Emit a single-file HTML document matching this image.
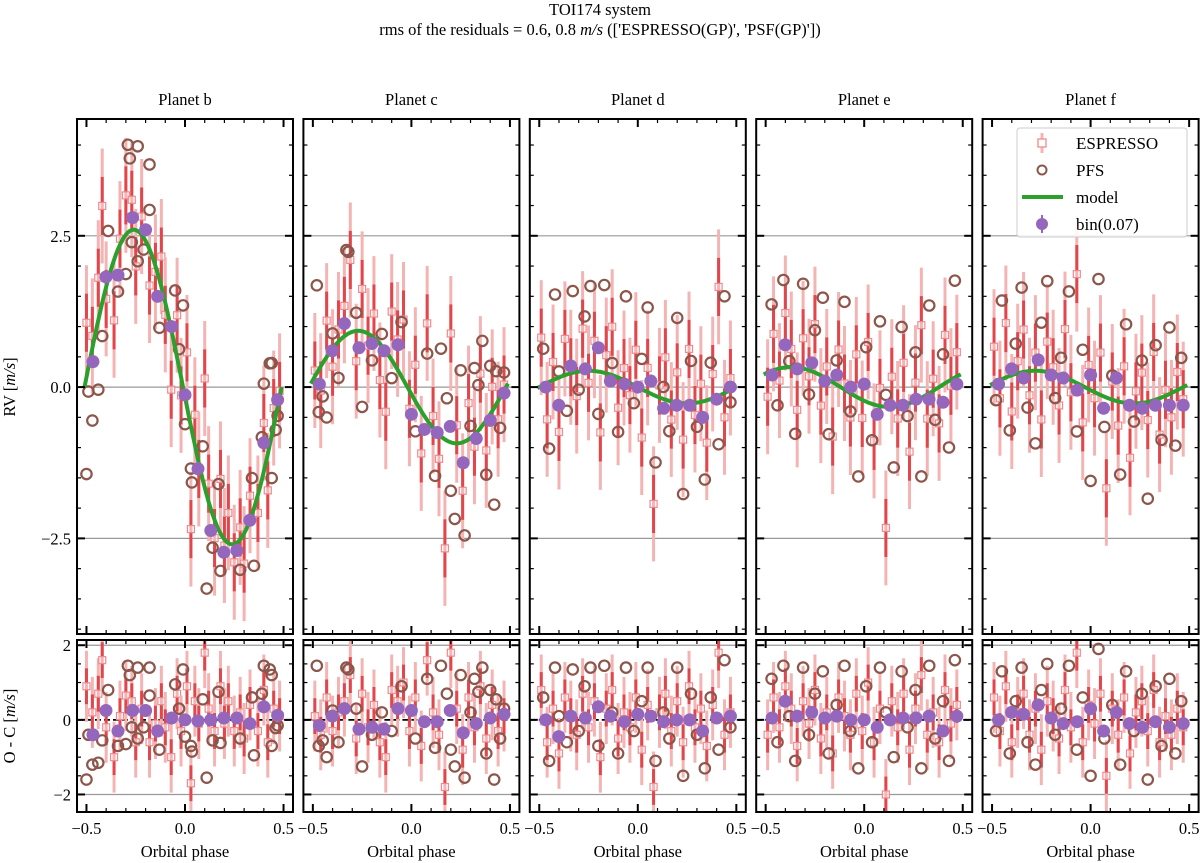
<!DOCTYPE html>
<html><head><meta charset="utf-8">
<style>
html,body{margin:0;padding:0;background:#fff;}
svg{display:block;font-family:"Liberation Serif",serif;}
</style></head>
<body>
<svg id="chart" width="1200" height="863" viewBox="0 0 1200 863" xmlns="http://www.w3.org/2000/svg">
<text x="600" y="15" text-anchor="middle" font-size="16.5">TOI174 system</text>
<text x="600" y="35" text-anchor="middle" font-size="16.5">rms of the residuals = 0.6, 0.8 <tspan font-style="italic">m/s</tspan> (['ESPRESSO(GP)', 'PSF(GP)'])</text>
<text transform="translate(15,387) rotate(-90)" text-anchor="middle" font-size="16.5">RV [<tspan font-style="italic">m/s</tspan>]</text>
<text transform="translate(15,726) rotate(-90)" text-anchor="middle" font-size="16.5">O - C [<tspan font-style="italic">m/s</tspan>]</text>
<g id="plots"></g>
</svg>
<script>
const planets = ["b","c","d","e","f"];
// model semi-amplitudes (m/s) and phase offsets
const modelK = [2.6, 0.93, 0.27, 0.33, 0.27];
const modelShift = [0.01, 0.02, 0.0, 0.12, 0.03];
// binned points
const binPhase = [-0.467,-0.401,-0.34,-0.266,-0.2,-0.139,-0.068,0,0.066,0.131,0.197,0.263,0.329,0.4,0.47];
const binRV_b = [0.42,1.82,1.85,2.8,2.6,1.5,1.0,-0.13,-1.35,-2.37,-2.73,-2.7,-2.2,-0.92,-0.21];
const binRV_c = [0.05,0.6,1.05,0.65,0.72,0.6,0.7,-0.45,-0.7,-0.75,-0.65,-1.25,-0.85,-0.55,-0.1];
const binRV_d = [0.0,-0.3,0.35,0.3,0.65,0.1,0.05,0.0,0.1,-0.35,-0.3,-0.3,-0.5,-0.2,0.0];
const binRV_e = [0.2,0.7,0.3,0.4,0.1,0.2,0.0,0.05,-0.45,-0.3,-0.3,-0.2,-0.2,-0.25,0.05];
const binRV_f = [0.05,0.3,0.15,0.45,0.2,0.15,-0.05,0.2,-0.35,0.15,-0.3,-0.35,-0.3,-0.3,-0.3];
const binRes_b = [-0.4,0.25,-0.3,0.25,0.25,-0.3,0.05,0,-0.03,0,0.05,0.05,-0.1,0.35,0.12];
const binRes_c = [-0.15,0.1,0.3,-0.25,-0.2,-0.25,0.3,0.25,-0.05,-0.05,0.25,-0.35,-0.1,0.05,0.15];
const binRes_d = [0.0,-0.45,0.1,0.05,0.35,0.1,-0.05,0.15,0.1,-0.05,0.0,0.0,-0.3,0.05,0.1];
const binRes_e = [0.05,0.5,0.1,0.2,0.05,0.1,0.0,0.0,-0.2,0.0,0.05,0.05,0.1,-0.3,0.1];
const binRes_f = [0.0,0.2,0.15,0.4,0.05,-0.1,-0.05,0.3,-0.3,0.2,-0.1,-0.2,-0.05,-0.2,-0.1];
// PFS residuals (phase, residual)
const pfsPhase_b = [-0.49,-0.5,-0.47,-0.44,-0.39,-0.42,-0.34,-0.3,-0.29,-0.28,-0.24,-0.24,-0.27,-0.18,-0.18,-0.21,-0.13,-0.05,-0.03,-0.01,0,0.03,0.035,0.09,0.11,0.14,0.17,0.18,0.28,0.34,0.35,0.39,0.4,0.43,0.44,0.44,0.46,0.47];
const pfsRes_b = [-0.4,-1.6,-1.2,-1.15,0.8,-0.55,-0.7,-0.65,1.45,1.2,1.4,-0.5,-0.2,0.65,1.4,-0.2,-0.8,0.95,0.3,1.35,-0.45,-0.7,-0.85,0.55,-1.55,-0.55,0.75,-0.62,-0.5,0.6,-0.95,0.7,1.45,1.35,1.2,-0.7,-0.22,-0.15];
const pfsPhase_c = [-0.48,-0.47,-0.45,-0.43,-0.4,-0.37,-0.33,-0.32,-0.28,-0.25,-0.2,-0.15,-0.1,-0.05,0.02,0.08,0.12,0.15,0.18,0.2,0.22,0.25,0.27,0.3,0.32,0.34,0.36,0.38,0.4,0.42,0.43,0.45,0.47];
const pfsRes_c = [1.45,-0.7,-0.55,-1.0,0.25,-0.6,1.4,1.35,0.3,-1.25,-0.4,0.2,-0.3,0.9,-0.5,1.1,-0.75,1.45,0.7,-0.8,-1.25,1.2,-1.55,0.2,1.1,0.75,1.4,-0.9,0.8,-1.6,0.55,-0.5,0.3];
const pfsPhase_d = [-0.48,-0.45,-0.42,-0.4,-0.36,-0.33,-0.3,-0.27,-0.24,-0.2,-0.17,-0.13,-0.1,-0.06,-0.02,0.02,0.05,0.09,0.13,0.16,0.2,0.23,0.27,0.3,0.34,0.37,0.41,0.44,0.47];
const pfsRes_d = [0.6,-1.1,1.4,0.1,-0.6,1.35,-0.3,0.9,1.4,-0.7,1.45,0.2,-0.9,1.4,-0.3,0.5,1.4,-1.1,0.2,-0.5,1.4,-1.5,0.7,-0.4,-1.3,0.6,-0.8,1.6,-0.2];
const pfsPhase_e = [-0.47,-0.44,-0.41,-0.38,-0.35,-0.31,-0.28,-0.25,-0.21,-0.18,-0.14,-0.1,-0.07,-0.03,0.01,0.04,0.08,0.11,0.15,0.19,0.22,0.26,0.29,0.33,0.36,0.4,0.43,0.46];
const pfsRes_e = [1.1,-0.6,1.45,0.1,-1.1,1.4,-0.4,0.7,1.3,-0.9,0.4,1.45,-0.3,-1.3,0.9,-0.6,1.4,0.2,-1.0,1.3,-0.2,0.8,-1.3,1.45,-0.5,0.5,-1.1,1.6];
const pfsPhase_f = [-0.48,-0.45,-0.41,-0.38,-0.35,-0.32,-0.28,-0.25,-0.22,-0.18,-0.15,-0.11,-0.07,-0.04,0.0,0.04,0.07,0.11,0.15,0.18,0.22,0.26,0.29,0.33,0.36,0.4,0.43,0.46];
const pfsRes_f = [-0.3,1.3,-0.9,0.5,1.4,-0.6,-1.2,0.8,1.5,-0.4,0.3,1.45,-0.8,0.6,-1.5,1.9,-0.5,0.4,-1.2,1.3,-0.3,0.7,-1.6,0.9,-0.7,1.1,-0.9,0.5];
// ESPRESSO residuals
const espPhase_b = [-0.5,-0.47,-0.44,-0.42,-0.4,-0.36,-0.33,-0.3,-0.27,-0.25,-0.22,-0.18,-0.15,-0.12,-0.1,-0.07,-0.04,-0.02,0.01,0.03,0.05,0.07,0.1,0.12,0.15,0.18,0.2,0.22,0.25,0.28,0.3,0.33,0.37,0.4,0.42,0.45,0.48];
const espRes_b = [0.9,0.2,0.7,1.6,-0.2,-1.0,0.1,0.65,0.5,-0.6,0.3,-0.6,-0.1,0.5,-0.2,-1.0,0.7,-0.3,0.9,-1.7,0.5,-0.1,1.8,0.3,-0.3,0.9,-0.1,0.5,-0.3,0.2,-0.5,0.4,-0.3,0.8,-0.6,0.3,0.1];
const espPhase_c = [-0.49,-0.46,-0.43,-0.4,-0.37,-0.34,-0.31,-0.28,-0.25,-0.22,-0.19,-0.16,-0.13,-0.1,-0.07,-0.04,-0.01,0.02,0.05,0.08,0.11,0.14,0.17,0.2,0.23,0.26,0.29,0.32,0.35,0.38,0.41,0.44,0.47];
const espRes_c = [0.1,-0.4,0.6,-0.3,0.2,0.5,1.2,-0.5,0.7,-0.2,0.4,-0.6,-1.0,0.8,0.5,1.0,-0.3,0.6,-0.7,1.6,0.2,-0.4,-1.8,1.8,0.3,-0.8,0.6,-0.2,0.9,-0.5,0.4,-0.3,0.1];
const espPhase_d = [-0.49,-0.46,-0.43,-0.4,-0.37,-0.34,-0.31,-0.28,-0.25,-0.22,-0.19,-0.16,-0.13,-0.1,-0.07,-0.04,-0.01,0.02,0.05,0.08,0.11,0.14,0.17,0.2,0.23,0.26,0.29,0.32,0.35,0.38,0.41,0.44,0.47];
const espRes_d = [0.8,-0.6,0.3,-0.9,0.6,0.1,-0.4,0.7,-0.2,0.5,-1.0,0.3,0.8,-0.5,0.2,-0.2,0.6,-0.8,0.4,-1.8,0.2,0.7,-0.3,0.5,-0.6,0.9,-0.2,0.3,-0.7,0.4,1.8,-0.4,0.2];
const espPhase_e = [-0.49,-0.46,-0.43,-0.4,-0.37,-0.34,-0.31,-0.28,-0.25,-0.22,-0.19,-0.16,-0.13,-0.1,-0.07,-0.04,-0.01,0.02,0.05,0.08,0.11,0.14,0.17,0.2,0.23,0.26,0.29,0.32,0.35,0.38,0.41,0.44,0.47];
const espRes_e = [-0.4,0.6,-0.2,0.9,0.3,-0.7,0.5,-0.1,0.8,-0.5,0.2,-0.9,0.6,0.1,-0.4,0.7,-0.3,1.0,-0.6,0.3,-2.0,0.5,-0.2,0.7,-0.8,0.3,1.2,-0.4,0.2,-0.6,0.8,-0.1,0.4];
const espPhase_f = [-0.49,-0.46,-0.43,-0.4,-0.37,-0.34,-0.31,-0.28,-0.25,-0.22,-0.19,-0.16,-0.13,-0.1,-0.07,-0.04,-0.01,0.02,0.05,0.08,0.11,0.14,0.17,0.2,0.23,0.26,0.29,0.32,0.35,0.38,0.41,0.44,0.47];
const espRes_f = [0.6,-0.3,0.9,-0.6,0.2,0.7,-0.4,0.3,-0.8,0.5,0.1,-0.5,0.8,-0.2,1.8,-0.6,0.4,-0.1,0.7,-1.5,0.3,-0.4,0.6,-0.9,0.2,0.5,-0.3,0.8,-0.6,0.1,-0.4,0.3,-0.2];
const xTickLabels = ["\u22120.5","0.0","0.5"];
const xTickVals = [-0.5,0,0.5];
const topTickVals = [-2.5,0,2.5];
const topTickLabels = ["\u22122.5","0.0","2.5"];
const botTickVals = [-2,0,2];
const botTickLabels = ["\u22122","0","2"];

const binRV = {b:binRV_b,c:binRV_c,d:binRV_d,e:binRV_e,f:binRV_f};
const binRes = {b:binRes_b,c:binRes_c,d:binRes_d,e:binRes_e,f:binRes_f};
const pfsP = {b:pfsPhase_b,c:pfsPhase_c,d:pfsPhase_d,e:pfsPhase_e,f:pfsPhase_f};
const pfsR = {b:pfsRes_b,c:pfsRes_c,d:pfsRes_d,e:pfsRes_e,f:pfsRes_f};
const espP = {b:espPhase_b,c:espPhase_c,d:espPhase_d,e:espPhase_e,f:espPhase_f};
const espR = {b:espRes_b,c:espRes_c,d:espRes_d,e:espRes_e,f:espRes_f};

const NS="http://www.w3.org/2000/svg";
const root=document.getElementById('plots');
function mk(tag,attrs,parent){const e=document.createElementNS(NS,tag);for(const k in attrs)e.setAttribute(k,attrs[k]);(parent||root).appendChild(e);return e;}

const W=216, X0=77, PITCH=226.4, XMIN=-0.548, XMAX=0.548;
const TOP={y0:119,y1:634,vmin:-4.08,vmax:4.43};
const BOT={y0:640,y1:812,vmin:-2.47,vmax:2.14};
function xs(i,p){return X0+i*PITCH+(p-XMIN)/(XMAX-XMIN)*W;}
function ys(P,v){return P.y1-(v-P.vmin)/(P.vmax-P.vmin)*(P.y1-P.y0);}
function model(i,p){return -modelK[i]*Math.sin(2*Math.PI*(p+modelShift[i]));}

planets.forEach((pl,i)=>{
  const g=mk('g',{});
  
  
  const left=X0+i*PITCH;
  const t=mk('text',{x:left+W/2,y:105,'text-anchor':'middle','font-size':16.5},g);
  t.textContent='Planet '+pl;
  
  
  [[TOP,'rv'],[BOT,'residual']].forEach(([P,kind])=>{
    const pg=mk('g',{},g);
    
    
    const clipId='clip'+pl+kind;
    const cp=mk('clipPath',{id:clipId},pg);
    mk('rect',{x:left,y:P.y0,width:W,height:P.y1-P.y0},cp);
    const hv = kind==='rv'?topTickVals:botTickVals;
    hv.forEach(v=>{
      const z=(kind==='residual'&&v===0);
      const l=mk('line',{x1:left,x2:left+W,y1:ys(P,v),y2:ys(P,v),stroke:z?'#000':'#999','stroke-width':z?1.8:1.2,'stroke-dasharray':z?'6,3':'none'},pg);
      
      
    });
    const data=mk('g',{'clip-path':'url(#'+clipId+')'},pg);
    const ph=espP[pl], rs=espR[pl];
    ph.forEach((p,k)=>{
      const v = kind==='rv'? model(i,p)+rs[k] : rs[k];
      const x=xs(i,p), y=ys(P,v);
      const sc=(P.y1-P.y0)/(P.vmax-P.vmin);
      mk('line',{x1:x,x2:x,y1:y-0.95*sc,y2:y+0.95*sc,stroke:'#f4b4b4','stroke-width':3},data);
      mk('line',{x1:x,x2:x,y1:y-0.48*sc,y2:y+0.48*sc,stroke:'#e2464b','stroke-width':3},data);
      const m=mk('rect',{x:x-3.5,y:y-3.5,width:7,height:7,fill:'#fff','fill-opacity':0.6,stroke:'#f08a8d','stroke-width':1.2},data);
      
      
    });
    const pp=pfsP[pl], pr=pfsR[pl];
    pp.forEach((p,k)=>{
      const v = kind==='rv'? model(i,p)+pr[k] : pr[k];
      const c=mk('circle',{cx:xs(i,p),cy:ys(P,v),r:5.2,fill:'none',stroke:'#8c564b','stroke-width':2.2},data);
      
      
    });
    if(kind==='rv'){
      let d='';
      for(let s=0;s<=100;s++){const p=-0.51+s/100;d+=(s?'L':'M')+xs(i,p).toFixed(1)+','+ys(P,model(i,p)).toFixed(1);}
      const ml=mk('path',{d:d,fill:'none',stroke:'#2ca02c','stroke-width':4},data);
      
      
    }
    const bv = kind==='rv'?binRV[pl]:binRes[pl];
    binPhase.forEach((p,k)=>{
      const c=mk('circle',{cx:xs(i,p),cy:ys(P,bv[k]),r:6.5,fill:'#9467bd'},data);
      
      
    });
    for(let k=-5;k<=5;k++){
      const p=k/10, x=xs(i,p), len=(k%5===0)?8:4;
      mk('line',{x1:x,x2:x,y1:P.y1,y2:P.y1-len,stroke:'#000','stroke-width':(k%5===0)?2:1.2},pg);
      mk('line',{x1:x,x2:x,y1:P.y0,y2:P.y0+len,stroke:'#000','stroke-width':(k%5===0)?2:1.2},pg);
    }
    const step=0.5;
    for(let v=Math.ceil(P.vmin/step)*step; v<=P.vmax; v+=step){
      const y=ys(P,v), major=hv.some(h=>Math.abs(h-v)<1e-6), len=major?8:4;
      mk('line',{x1:left,x2:left+len,y1:y,y2:y,stroke:'#000','stroke-width':major?2:1.2},pg);
      mk('line',{x1:left+W,x2:left+W-len,y1:y,y2:y,stroke:'#000','stroke-width':major?2:1.2},pg);
    }
    const fr=mk('rect',{x:left,y:P.y0,width:W,height:P.y1-P.y0,fill:'none',stroke:'#000','stroke-width':2},pg);
    
    
    if(i===0){
      const labs = kind==='rv'?topTickLabels:botTickLabels;
      hv.forEach((v,k)=>{
        const tl=mk('text',{x:left-6,y:ys(P,v)+6,'text-anchor':'end','font-size':16.5},pg);
        tl.textContent=labs[k];
        
        
      });
    }
  });
  xTickVals.forEach((v,k)=>{
    const tl=mk('text',{x:xs(i,v),y:834,'text-anchor':'middle','font-size':16.5},g);
    tl.textContent=xTickLabels[k];
    
    
  });
  const xl=mk('text',{x:left+W/2,y:857,'text-anchor':'middle','font-size':16.5},g);
  xl.textContent='Orbital phase';
  
  
});

const lg=mk('g',{});


mk('rect',{x:1017,y:128,width:170,height:109,rx:3,fill:'#fff','fill-opacity':0.85,stroke:'#ccc','stroke-width':1},lg);
mk('line',{x1:1042,x2:1042,y1:133,y2:153,stroke:'#f4b4b4','stroke-width':3},lg);
mk('rect',{x:1038,y:139,width:8,height:8,fill:'#fff',stroke:'#f08a8d','stroke-width':1.3},lg);
mk('circle',{cx:1042,cy:170,r:4.5,fill:'none',stroke:'#8c564b','stroke-width':2},lg);
mk('line',{x1:1022,x2:1063,y1:197,y2:197,stroke:'#2ca02c','stroke-width':4},lg);
mk('line',{x1:1042,x2:1042,y1:215,y2:233,stroke:'#9467bd','stroke-width':2},lg);
mk('circle',{cx:1042,cy:224,r:6,fill:'#9467bd'},lg);
[['ESPRESSO',149],['PFS',176],['model',203],['bin(0.07)',230]].forEach(([s,y])=>{
  const t=mk('text',{x:1076,y:y,'font-size':17},lg);
  t.textContent=s;
  
  
});
</script>
</body></html>
